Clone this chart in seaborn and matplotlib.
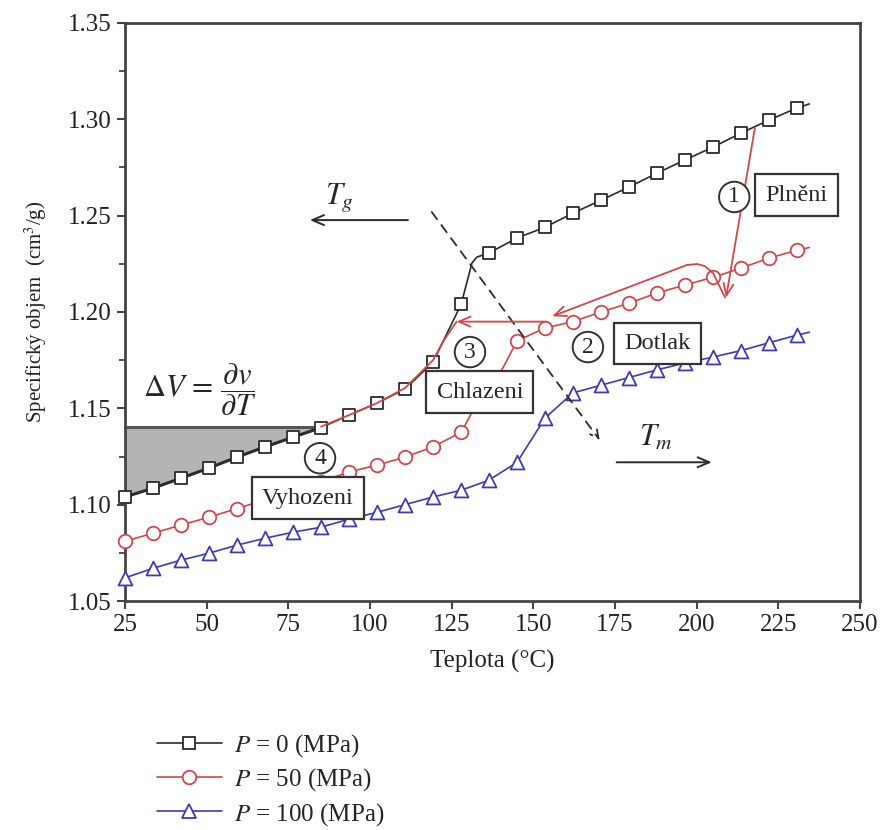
import numpy as np
import pandas as pd
import seaborn as sns
import matplotlib.pyplot as plt
from matplotlib.lines import Line2D

# marker positions (teplota, °C)
teplota = [25, 33.6, 42.1, 50.7, 59.3, 67.9, 76.4, 85, 93.6, 102.1, 110.7, 119.3,
           127.9, 136.4, 145, 153.6, 162.1, 170.7, 179.3, 187.9, 196.4, 205, 213.6,
           222.1, 230.7]
v_p0 = [1.104, 1.1086, 1.1137, 1.119, 1.1247, 1.130, 1.135, 1.140, 1.1465, 1.1527,
        1.160, 1.174, 1.204, 1.2306, 1.2384, 1.244, 1.2513, 1.258, 1.2649, 1.2721,
        1.2789, 1.2856, 1.2929, 1.2996, 1.3059]
v_p50 = [1.081, 1.0852, 1.0894, 1.0935, 1.098, 1.1025, 1.107, 1.112, 1.117, 1.1205,
         1.1247, 1.130, 1.1376, 1.161, 1.185, 1.1917, 1.195, 1.200, 1.2046, 1.2099,
         1.214, 1.218, 1.2228, 1.228, 1.232]
v_p100 = [1.062, 1.067, 1.0712, 1.0748, 1.079, 1.0826, 1.0857, 1.0883, 1.0925, 1.096,
          1.100, 1.104, 1.1075, 1.1127, 1.122, 1.145, 1.158, 1.162, 1.166, 1.170,
          1.1735, 1.1766, 1.180, 1.184, 1.188]

# extra line points (kinks and line ends, no marker)
extra_p0 = [(131.2, 1.2254), (132.7, 1.2285), (234.5, 1.308)]
extra_p50 = [(133, 1.1535), (140.7, 1.171), (234.5, 1.2335)]
extra_p100 = [(234.5, 1.1895)]

labels = ["$P$ = 0 (MPa)", "$P$ = 50 (MPa)", "$P$ = 100 (MPa)"]

# process path (red)
plneni = [(217.8, 1.2955), (209.0, 1.2075)]
dotlak_curve = [(208.7, 1.2075), (206.5, 1.215), (205, 1.2202), (202.5, 1.2238),
                (200.1, 1.2249), (197, 1.2244)]
dotlak_end = (155.8, 1.1978)
chlazeni_arrow = [(153.5, 1.1950), (126.5, 1.1950)]
chlazeni_line = [(126.5, 1.195), (122.5, 1.185), (119.3, 1.175), (110.7, 1.1605),
                 (102.1, 1.1527), (93.6, 1.1465), (85, 1.1405)]
dv_top = 1.1402

black = "#2b2b2b"
red = "#d0474c"
blue = "#3c3cb4"

sns.set_theme(style="ticks")
plt.rcParams["font.family"] = ["Liberation Serif", "DejaVu Serif"]
plt.rcParams["mathtext.fontset"] = "stix"

fig = plt.figure(figsize=(8.84, 8.3), dpi=100)
ax = fig.add_axes([0.1414, 0.2759, 0.8315, 0.6964])

series = [
    (v_p0, extra_p0, black, "s", 68),
    (v_p50, extra_p50, red, "o", 95),
    (v_p100, extra_p100, blue, "^", 100),
]
handles = []
for (vals, extra, col, mk, size), lab in zip(series, labels):
    pts = sorted(list(zip(teplota, vals)) + extra)
    df = pd.DataFrame(pts, columns=["T", "v"])
    sns.lineplot(data=df, x="T", y="v", color=col, lw=1.2, ax=ax, sort=False,
                 estimator=None, zorder=2)
    sns.scatterplot(x=teplota, y=vals, marker=mk, s=size, facecolor="white",
                    edgecolor=col, linewidth=1.3, ax=ax, zorder=3, clip_on=False)
    handles.append(Line2D([], [], color=col, lw=1.2, marker=mk, markersize=np.sqrt(size),
                          markerfacecolor="white", markeredgecolor=col, markeredgewidth=1.3,
                          label=lab))

# shaded dV region
i_end = teplota.index(85)
poly_x = [25, 85] + teplota[:i_end + 1][::-1]
poly_y = [dv_top, dv_top] + v_p0[:i_end + 1][::-1]
ax.fill(poly_x, poly_y, color="#b4b4b4", zorder=1, lw=0)
ax.plot([25, 84], [dv_top, dv_top], color="#555555", lw=2.2, zorder=2)
ax.plot(teplota[:i_end + 1], v_p0[:i_end + 1], color=black, lw=2.2, zorder=2)

# red process path
arrow = dict(arrowstyle="->,head_length=0.7,head_width=0.3", color=red, lw=1.3,
             shrinkA=0, shrinkB=0)
ax.annotate("", xy=plneni[1], xytext=plneni[0], arrowprops=arrow, zorder=4)
cx, cy = zip(*dotlak_curve)
ax.plot(cx, cy, color=red, lw=1.3, zorder=4)
ax.annotate("", xy=dotlak_end, xytext=dotlak_curve[-1], arrowprops=arrow, zorder=4)
ax.annotate("", xy=chlazeni_arrow[1], xytext=chlazeni_arrow[0], arrowprops=arrow, zorder=4)
lx, ly = zip(*chlazeni_line)
ax.plot(lx, ly, color=red, lw=1.3, zorder=4)

# Tg / Tm and dashed divider
karrow = dict(arrowstyle="->,head_length=0.7,head_width=0.3", color=black, lw=1.4,
              shrinkA=0, shrinkB=0)
ax.annotate("", xy=(81.6, 1.2477), xytext=(111.6, 1.2477), arrowprops=karrow)
ax.text(90.6, 1.2593, "$T_g$", fontsize=22, ha="center", va="center")
ax.annotate("", xy=(204.6, 1.122), xytext=(175.5, 1.122), arrowprops=karrow)
ax.text(187.5, 1.1345, "$T_m$", fontsize=22, ha="center", va="center")
ax.annotate("", xy=(170.3, 1.1335), xytext=(118.9, 1.2519),
            arrowprops=dict(arrowstyle="->,head_length=0.5,head_width=0.25", color=black,
                            lw=1.3, ls=(0, (5, 4)), shrinkA=0, shrinkB=0))

ax.text(48, 1.1595, r"$\Delta V\,=\,\dfrac{\partial v}{\partial T}$", fontsize=22,
        ha="center", va="center")

# step labels
box = dict(boxstyle="square,pad=0.42", fc="white", ec="#333333", lw=1.6)
for x, y, t in [(230.6, 1.2607, "Plněni"), (188.1, 1.1838, "Dotlak"),
                (133.6, 1.1584, "Chlazeni"), (81, 1.1034, "Vyhozeni")]:
    ax.text(x, y, t, fontsize=17.5, ha="center", va="center", bbox=box, zorder=6)
circ = dict(boxstyle="circle,pad=0.2", fc="white", ec="#333333", lw=1.4)
for x, y, t in [(211.5, 1.2597, "1"), (166.7, 1.1818, "2"), (130.6, 1.1792, "3"),
                (84.7, 1.1241, "4")]:
    ax.text(x, y, t, fontsize=17, ha="center", va="center", bbox=circ, zorder=6)

ax.set_xlim(25, 250)
ax.set_ylim(1.05, 1.35)
ax.set_xticks(np.arange(25, 251, 25))
ax.set_yticks(np.arange(1.05, 1.351, 0.05))
ax.set_yticks(np.arange(1.075, 1.35, 0.05), minor=True)
ax.yaxis.set_major_formatter(plt.FormatStrFormatter("%.2f"))
ax.tick_params(axis="both", which="major", length=6, width=1.5, labelsize=18,
               color="#444444", labelcolor="#222222")
ax.tick_params(axis="y", which="minor", length=4, width=1.3, color="#444444")
for sp in ax.spines.values():
    sp.set_linewidth(2)
    sp.set_color("#444444")
    sp.set_visible(True)

ax.set_xlabel("Teplota (°C)", fontsize=18, color="#222222", labelpad=10)
ax.set_ylabel("Specifický objem  (cm$^3$/g)", fontsize=15, color="#222222", labelpad=14)

fig.legend(handles=handles, loc="upper left", bbox_to_anchor=(0.166, 0.13),
           frameon=False, fontsize=18, handlelength=2.6, labelspacing=0.3,
           handletextpad=0.5, borderaxespad=0)

fig.savefig("out.png", dpi=100)
